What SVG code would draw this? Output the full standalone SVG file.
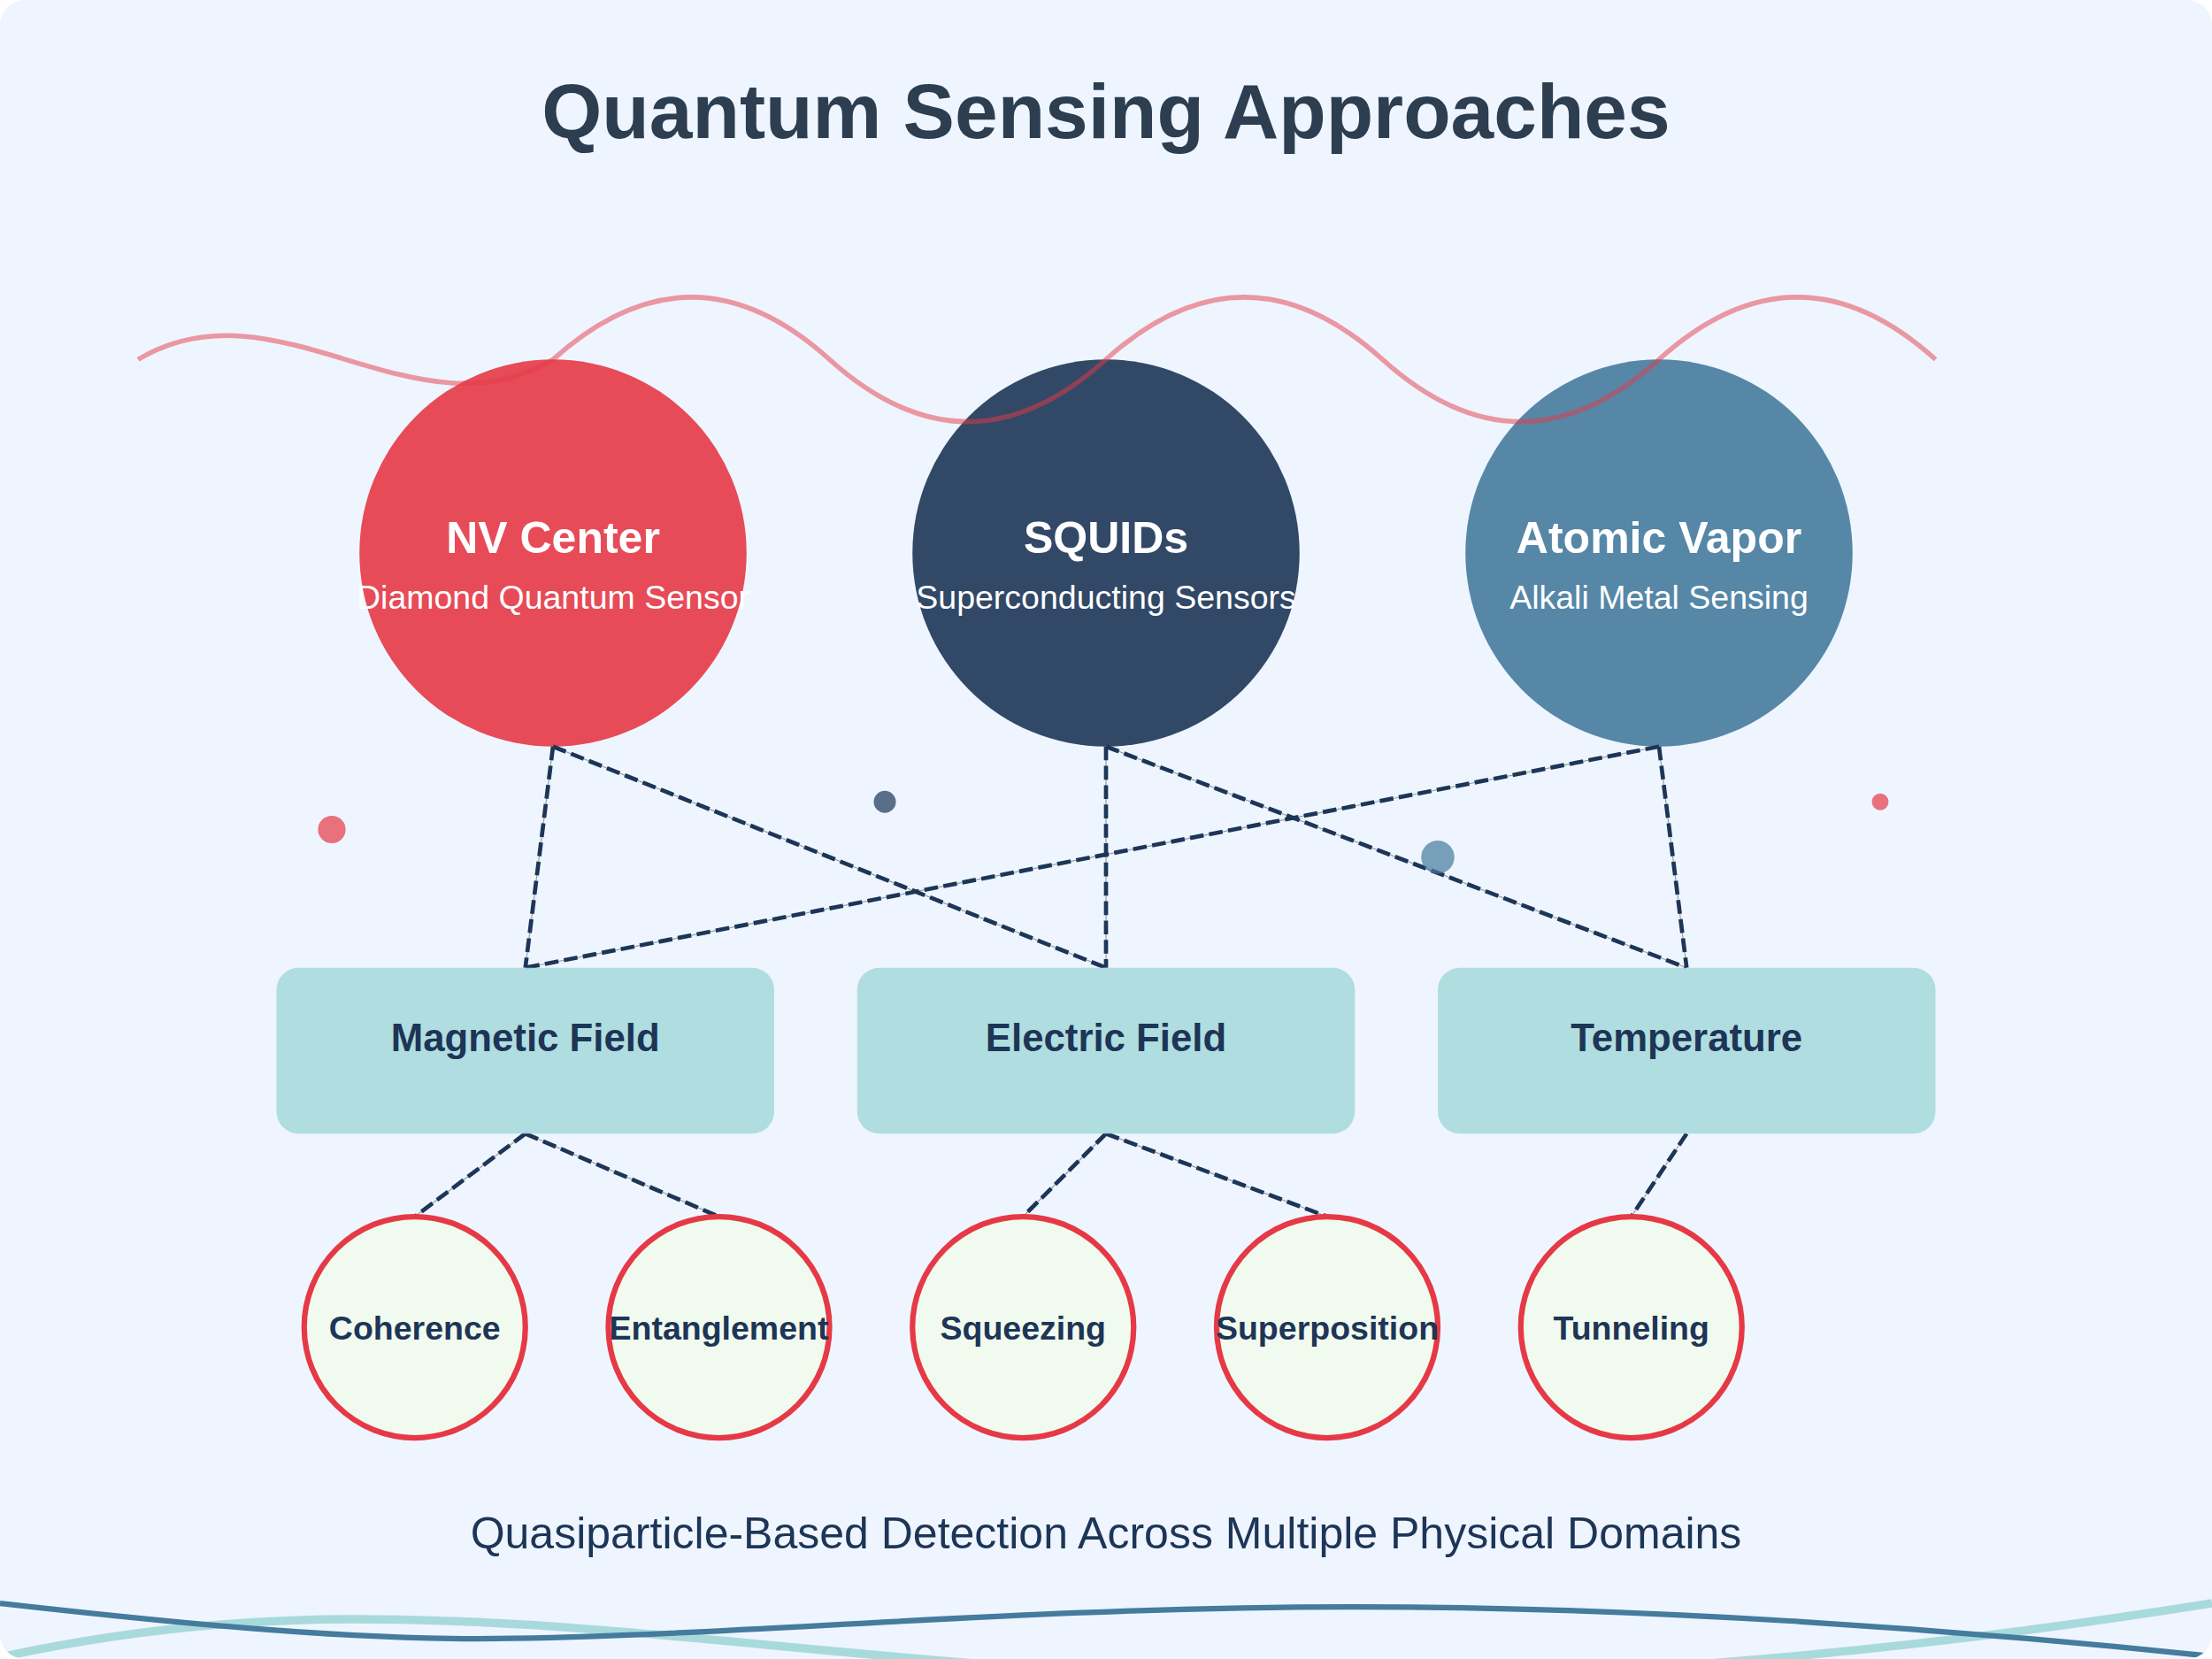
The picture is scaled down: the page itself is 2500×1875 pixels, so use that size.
<svg xmlns="http://www.w3.org/2000/svg" width="2500" height="1875" viewBox="0 0 2500 1875">
  <defs>
    <clipPath id="page">
      <rect x="0" y="0" width="2500" height="1875" rx="28" ry="28"/>
    </clipPath>
    <style>
      .title { font-family: "Liberation Sans", Arial, sans-serif; font-weight: bold; font-size: 87.5px; fill: #2c3e50; text-anchor: middle; }
      .ntitle { font-family: "Liberation Sans", Arial, sans-serif; font-weight: bold; font-size: 50px; fill: #ffffff; text-anchor: middle; }
      .nsub { font-family: "Liberation Sans", Arial, sans-serif; font-size: 37.5px; fill: #ffffff; text-anchor: middle; }
      .btext { font-family: "Liberation Sans", Arial, sans-serif; font-weight: bold; font-size: 43.75px; fill: #1d3557; text-anchor: middle; }
      .ctext { font-family: "Liberation Sans", Arial, sans-serif; font-weight: bold; font-size: 37.5px; fill: #1d3557; text-anchor: middle; }
      .caption { font-family: "Liberation Sans", Arial, sans-serif; font-size: 50px; fill: #1d3557; text-anchor: middle; }
      .box { fill: #a8dadc; fill-opacity: 0.9; }
      .pc { fill: #f1faee; stroke: #e63946; stroke-width: 6.25; }
      .guide { stroke: #9a9ea4; stroke-width: 1.2; fill: none; }
      .dash { stroke: #1d3557; stroke-width: 4.7; stroke-dasharray: 15.6 6.25; fill: none; }
    </style>
  </defs>

  <rect x="0" y="0" width="2500" height="1875" fill="#ffffff"/>
  <rect id="background" x="0" y="0" width="2500" height="1875" rx="28" ry="28" fill="#eef5ff"/>

  <text class="title" x="1250" y="156">Quantum Sensing Approaches</text>

  <!-- approach nodes -->
  <g id="node-nv">
    <circle cx="625" cy="625" r="218.75" fill="#e63946" fill-opacity="0.9"/>
    <text class="ntitle" x="625" y="625">NV Center</text>
    <text class="nsub" x="625" y="687.5">Diamond Quantum Sensor</text>
  </g>
  <g id="node-squids">
    <circle cx="1250" cy="625" r="218.75" fill="#1d3557" fill-opacity="0.9"/>
    <text class="ntitle" x="1250" y="625">SQUIDs</text>
    <text class="nsub" x="1250" y="687.5">Superconducting Sensors</text>
  </g>
  <g id="node-atomic">
    <circle cx="1875" cy="625" r="218.75" fill="#457b9d" fill-opacity="0.9"/>
    <text class="ntitle" x="1875" y="625">Atomic Vapor</text>
    <text class="nsub" x="1875" y="687.5">Alkali Metal Sensing</text>
  </g>

  <!-- top decorative wave -->
  <path id="wave-top" d="M156,406.25 C312.5,312.5 468.75,500 625,406.25 Q781.25,265.6 937.5,406.25 T1250,406.25 T1562.5,406.25 T1875,406.25 T2187.5,406.25" fill="none" stroke="#e63946" stroke-opacity="0.5" stroke-width="5.5"/>

  <!-- connectors -->
  <g id="connectors">
    <g class="guide">
      <line x1="625" y1="843.75" x2="593.75" y2="1093.75"/>
      <line x1="625" y1="843.75" x2="1250" y2="1093.75"/>
      <line x1="1250" y1="843.75" x2="1250" y2="1093.75"/>
      <line x1="1250" y1="843.75" x2="1906.25" y2="1093.75"/>
      <line x1="1875" y1="843.75" x2="593.75" y2="1093.75"/>
      <line x1="1875" y1="843.75" x2="1906.25" y2="1093.75"/>
      <line x1="593.75" y1="1281.25" x2="468.75" y2="1375"/>
      <line x1="593.75" y1="1281.25" x2="812.5" y2="1375"/>
      <line x1="1250" y1="1281.25" x2="1156.25" y2="1375"/>
      <line x1="1250" y1="1281.25" x2="1500" y2="1375"/>
      <line x1="1906.25" y1="1281.25" x2="1843.75" y2="1375"/>
    </g>
    <g class="dash">
      <line x1="625" y1="843.75" x2="593.75" y2="1093.75"/>
      <line x1="625" y1="843.75" x2="1250" y2="1093.75"/>
      <line x1="1250" y1="843.75" x2="1250" y2="1093.75"/>
      <line x1="1250" y1="843.75" x2="1906.25" y2="1093.75"/>
      <line x1="1875" y1="843.75" x2="593.75" y2="1093.75"/>
      <line x1="1875" y1="843.75" x2="1906.25" y2="1093.75"/>
      <line x1="593.75" y1="1281.25" x2="468.75" y2="1375"/>
      <line x1="593.75" y1="1281.25" x2="812.5" y2="1375"/>
      <line x1="1250" y1="1281.25" x2="1156.25" y2="1375"/>
      <line x1="1250" y1="1281.25" x2="1500" y2="1375"/>
      <line x1="1906.25" y1="1281.25" x2="1843.75" y2="1375"/>
    </g>
  </g>

  <!-- decorative dots -->
  <g id="dots">
    <circle cx="375" cy="937.5" r="15.6" fill="#e63946" fill-opacity="0.7"/>
    <circle cx="1000" cy="906.25" r="12.5" fill="#1d3557" fill-opacity="0.7"/>
    <circle cx="1625" cy="968.75" r="18.75" fill="#457b9d" fill-opacity="0.7"/>
    <circle cx="2125" cy="906.25" r="9.4" fill="#e63946" fill-opacity="0.7"/>
  </g>

  <!-- field nodes -->
  <g id="node-magnetic">
    <rect class="box" x="312.5" y="1093.75" width="562.5" height="187.5" rx="25" ry="25"/>
    <text class="btext" x="593.75" y="1187.5">Magnetic Field</text>
  </g>
  <g id="node-electric">
    <rect class="box" x="968.75" y="1093.75" width="562.5" height="187.5" rx="25" ry="25"/>
    <text class="btext" x="1250" y="1187.5">Electric Field</text>
  </g>
  <g id="node-temperature">
    <rect class="box" x="1625" y="1093.75" width="562.5" height="187.5" rx="25" ry="25"/>
    <text class="btext" x="1906.25" y="1187.5">Temperature</text>
  </g>

  <!-- phenomenon nodes -->
  <g id="node-coherence">
    <circle class="pc" cx="468.75" cy="1500" r="125"/>
    <text class="ctext" x="468.75" y="1514">Coherence</text>
  </g>
  <g id="node-entanglement">
    <circle class="pc" cx="812.5" cy="1500" r="125"/>
    <text class="ctext" x="812.5" y="1514">Entanglement</text>
  </g>
  <g id="node-squeezing">
    <circle class="pc" cx="1156.25" cy="1500" r="125"/>
    <text class="ctext" x="1156.25" y="1514">Squeezing</text>
  </g>
  <g id="node-superposition">
    <circle class="pc" cx="1500" cy="1500" r="125"/>
    <text class="ctext" x="1500" y="1514">Superposition</text>
  </g>
  <g id="node-tunneling">
    <circle class="pc" cx="1843.75" cy="1500" r="125"/>
    <text class="ctext" x="1843.75" y="1514">Tunneling</text>
  </g>

  <text class="caption" x="1250" y="1750">Quasiparticle-Based Detection Across Multiple Physical Domains</text>

  <!-- bottom waves -->
  <g clip-path="url(#page)" fill="none">
    <path d="M0,1873 C133,1844 270,1830 400,1830 C750,1830 1050,1897 1514,1897 C1850,1897 2200,1860 2500,1812" stroke="#a8dadc" stroke-width="9.4"/>
    <path d="M0,1812 C187,1833 373,1852 540,1852 C790,1852 1150,1816 1530,1816 C1850,1816 2200,1840 2500,1872" stroke="#457b9d" stroke-width="6.25"/>
  </g>
</svg>
